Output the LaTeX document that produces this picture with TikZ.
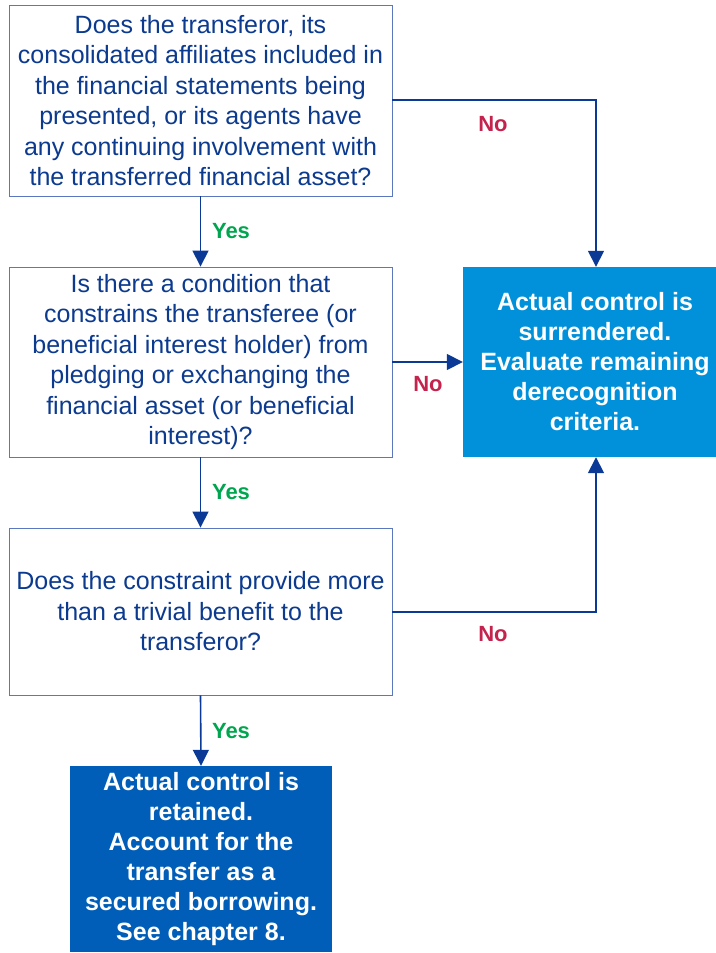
\documentclass[tikz,border=0pt]{standalone}
\usepackage{fontspec}
\setmainfont{Liberation Sans}
\usetikzlibrary{arrows.meta}
\definecolor{qtext}{HTML}{0B3A8F}
\definecolor{qframe}{HTML}{5B78BE}
\definecolor{qarrow}{HTML}{0B3A96}
\definecolor{lightfill}{HTML}{0091DA}
\definecolor{darkfill}{HTML}{005EB8}
\definecolor{yesgreen}{HTML}{00A54F}
\definecolor{nored}{HTML}{C4234D}
\begin{document}
\begin{tikzpicture}[x=1pt,y=-1pt,
  question/.style={draw=qframe, line width=0.9pt, fill=white, text=qtext,
    align=center, inner sep=0pt, font=\fontsize{25}{30.5}\selectfont,
    minimum width=383pt},
  outcome/.style={draw=none, text=white, align=center, inner sep=0pt,
    font=\fontsize{25}{30}\selectfont\bfseries},
  flow/.style={draw=qarrow, line width=1.6pt,
    -{Triangle[width=16pt,length=16pt]}},
  yes/.style={text=yesgreen, font=\fontsize{22}{24}\selectfont\bfseries},
  no/.style={text=nored, font=\fontsize{22}{24}\selectfont\bfseries}]
  \useasboundingbox (0,0) rectangle (715,953);

  % decision boxes
  \node[question, minimum height=191pt] (q1) at (200.5,100.5)
    {Does the transferor, its\\consolidated affiliates included in\\the financial statements being\\presented, or its agents have\\any continuing involvement with\\the transferred financial asset?};
  \node[question, minimum height=190pt] (q2) at (200.5,362)
    {Is there a condition that\\constrains the transferee (or\\beneficial interest holder) from\\pledging or exchanging the\\financial asset (or beneficial\\interest)?};
  \node[question, minimum height=167pt] (q3) at (200.5,611.5)
    {Does the constraint provide more\\than a trivial benefit to the\\transferor?};

  % outcomes (the right-hand box runs past the page edge)
  \node[outcome, fill=lightfill, minimum width=264pt, minimum height=190pt] (sur) at (595,362)
    {Actual control is\\surrendered.\\Evaluate remaining\\derecognition\\criteria.};
  \node[outcome, fill=darkfill, minimum width=262pt, minimum height=186pt] (ret) at (201,859)
    {Actual control is\\retained.\\Account for the\\transfer as a\\secured borrowing.\\See chapter 8.};

  % bend points on the right-hand path
  \coordinate (c1) at (596,100);
  \coordinate (c3) at (596,612);

  % connectors
  \draw[flow] (q1.south) -- (q2.north);
  \draw[flow] (q2.south) -- (q3.north);
  \draw[flow] (q3.south) -- (ret.north);
  \draw[flow] (q1.east |- c1) -- (c1) -- (c1 |- sur.north);
  \draw[flow] (q2.east) -- (sur.west);
  \draw[flow] (q3.east |- c3) -- (c3) -- (c3 |- sur.south);

  % branch labels
  \node[yes] (y1) at (231,231) {Yes};
  \node[yes] (y2) at (231,492) {Yes};
  \node[yes] (y3) at (231,731) {Yes};
  \node[no] (n1) at (493,124) {No};
  \node[no] (n2) at (428,384) {No};
  \node[no] (n3) at (493,634) {No};
\end{tikzpicture}
\end{document}
